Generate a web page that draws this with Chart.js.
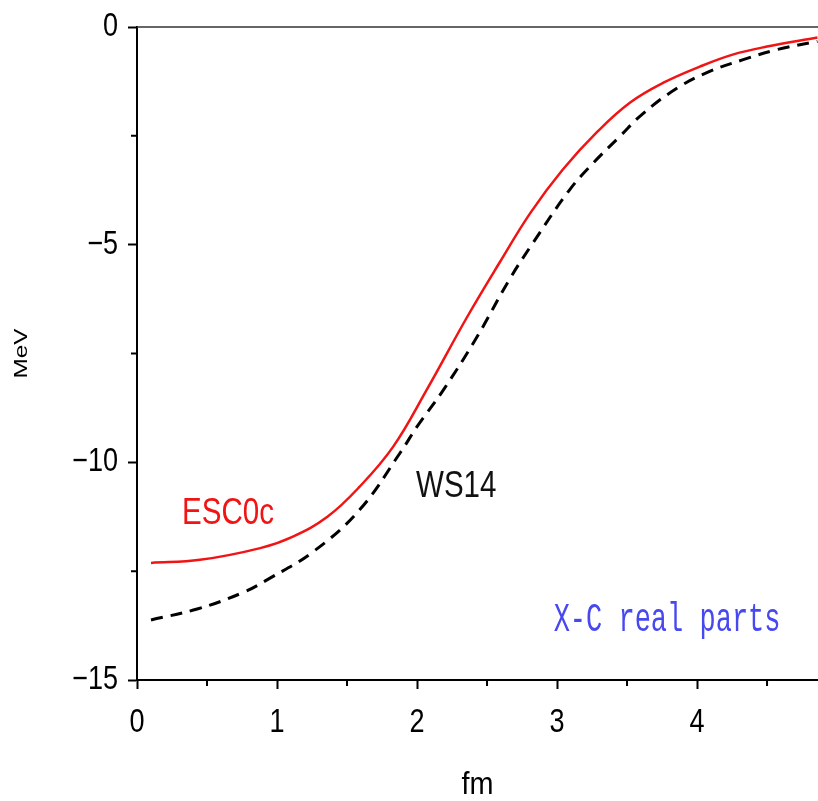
<!DOCTYPE html>
<html>
<head>
<meta charset="utf-8">
<title>X-C real parts</title>
<script src="https://cdn.jsdelivr.net/npm/chart.js@4"></script>
<style>
  html, body { margin: 0; padding: 0; background: #fff; }
  #wrap { width: 818px; height: 801px; overflow: hidden; }
</style>
</head>
<body>
<div id="wrap"><canvas id="potChart" width="818" height="801"></canvas></div>
<script>
// radial distance r (fm) and real part of the potential (MeV)
const esc0cR = [0.1, 0.45, 0.88, 1.11, 1.36, 1.59, 1.83, 2.07, 2.36, 2.59, 2.81, 3.04, 3.29, 3.52, 3.76, 4.02, 4.26, 4.5, 4.86];
const esc0cV = [-12.31, -12.24, -11.97, -11.71, -11.25, -10.56, -9.64, -8.33, -6.65, -5.41, -4.27, -3.28, -2.4, -1.74, -1.28, -0.91, -0.63, -0.45, -0.24];

const ws14R = [0.1, 0.43, 0.75, 0.95, 1.26, 1.59, 1.88, 2.0, 2.19, 2.43, 2.66, 2.83, 3.09, 3.26, 3.45, 3.61, 3.86, 4.09, 4.33, 4.57, 4.86];
const ws14V = [-13.62, -13.37, -13.0, -12.66, -12.05, -11.09, -9.78, -9.18, -8.33, -7.11, -5.8, -4.95, -3.74, -3.12, -2.51, -2.0, -1.4, -1.02, -0.75, -0.52, -0.33];

const xMajor = [0, 1, 2, 3, 4];
const xMinor = [0.5, 1.5, 2.5, 3.5, 4.5];
const yMajor = [0, -5, -10, -15];
const yMinor = [-2.5, -7.5, -12.5];

const sans = "'Liberation Sans', Arial, sans-serif";

function toPoints(xs, ys) {
    return xs.map(function(x, i) { return { x: x, y: ys[i] }; });
}

// text labels placed in data units
const curveLabels = [
    { text: 'ESC0c', x: 0.65, y: -11.2, color: '#f01414', font: '36px ' + sans, sx: 0.82, sy: 1 },
    { text: 'WS14', x: 2.28, y: -10.56, color: '#111', font: '36px ' + sans, sx: 0.82, sy: 1 },
    { text: 'X-C real parts', x: 3.786, y: -13.62, color: '#4848f0', font: "27px 'Liberation Mono', 'Courier New', monospace", sx: 1, sy: 1.5 }
];

function drawText(ctx, text, x, y, font, color, sx, sy, rot) {
    ctx.save();
    ctx.translate(x, y);
    if (rot) ctx.rotate(rot);
    ctx.scale(sx, sy);
    ctx.font = font;
    ctx.fillStyle = color;
    ctx.textAlign = 'center';
    ctx.textBaseline = 'middle';
    ctx.fillText(text, 0, 0);
    ctx.restore();
}

const framePlugin = {
    id: 'frame',
    afterDraw: function(chart) {
        const ctx = chart.ctx;
        const area = chart.chartArea;
        const xs = chart.scales.x;
        const ys = chart.scales.y;
        ctx.save();
        // top frame line
        ctx.strokeStyle = '#333';
        ctx.lineWidth = 1.5;
        ctx.beginPath();
        ctx.moveTo(area.left, area.top);
        ctx.lineTo(area.right, area.top);
        ctx.stroke();
        // minor ticks
        ctx.strokeStyle = '#000';
        ctx.lineWidth = 2;
        ctx.beginPath();
        xMinor.forEach(function(v) {
            const px = xs.getPixelForValue(v);
            ctx.moveTo(px, area.bottom);
            ctx.lineTo(px, area.bottom + 6);
        });
        yMinor.forEach(function(v) {
            const py = ys.getPixelForValue(v);
            ctx.moveTo(area.left, py);
            ctx.lineTo(area.left - 6, py);
        });
        ctx.stroke();
        ctx.restore();

        // condensed tick labels
        const tickFont = '33px ' + sans;
        xs.ticks.forEach(function(t) {
            drawText(ctx, String(t.value), xs.getPixelForValue(t.value), area.bottom + 43, tickFont, '#000', 0.82, 1);
        });
        ys.ticks.forEach(function(t) {
            const label = String(t.value).replace('-', '\u2212');
            ctx.save();
            ctx.font = tickFont;
            const w = ctx.measureText(label).width * 0.82;
            ctx.restore();
            drawText(ctx, label, area.left - 19 - w / 2, ys.getPixelForValue(t.value), tickFont, '#000', 0.82, 1);
        });

        // axis titles
        drawText(ctx, 'fm', (area.left + area.right) / 2, 785, '32px ' + sans, '#000', 0.9, 1);
        drawText(ctx, 'MeV', 22, (area.top + area.bottom) / 2, '18px ' + sans, '#000', 1.35, 1, -Math.PI / 2);

        // curve labels
        curveLabels.forEach(function(l) {
            drawText(ctx, l.text, xs.getPixelForValue(l.x), ys.getPixelForValue(l.y), l.font, l.color, l.sx, l.sy);
        });
    }
};

new Chart(document.getElementById('potChart'), {
    type: 'line',
    data: {
        datasets: [
            {
                label: 'ESC0c',
                data: toPoints(esc0cR, esc0cV),
                borderColor: '#f01414',
                borderWidth: 2.5,
                pointRadius: 0,
                tension: 0.4,
                fill: false
            },
            {
                label: 'WS14',
                data: toPoints(ws14R, ws14V),
                borderColor: '#000',
                borderWidth: 3,
                borderDash: [12, 8],
                pointRadius: 0,
                tension: 0.4,
                fill: false
            }
        ]
    },
    options: {
        responsive: false,
        animation: false,
        layout: { padding: { top: 27, right: 0, left: 0, bottom: 0 } },
        plugins: {
            legend: { display: false },
            tooltip: { enabled: false }
        },
        scales: {
            x: {
                type: 'linear',
                min: 0,
                max: 4.864,
                afterFit: function(scale) { scale.height = 121; },
                afterBuildTicks: function(scale) {
                    scale.ticks = xMajor.map(function(v) { return { value: v }; });
                },
                ticks: { display: false },
                grid: {
                    drawOnChartArea: false,
                    tickLength: 9,
                    tickWidth: 2,
                    tickColor: '#000'
                },
                border: { color: '#000', width: 2 }
            },
            y: {
                type: 'linear',
                min: -15,
                max: 0,
                afterFit: function(scale) { scale.width = 137; },
                afterBuildTicks: function(scale) {
                    scale.ticks = yMajor.map(function(v) { return { value: v }; });
                },
                ticks: { display: false },
                grid: {
                    drawOnChartArea: false,
                    tickLength: 9,
                    tickWidth: 2,
                    tickColor: '#000'
                },
                border: { color: '#000', width: 2 }
            }
        }
    },
    plugins: [framePlugin]
});
</script>
</body>
</html>
